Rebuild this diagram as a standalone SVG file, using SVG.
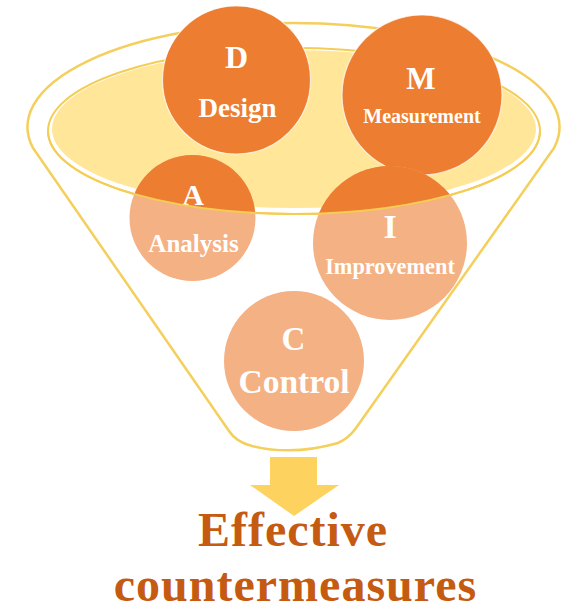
<svg xmlns="http://www.w3.org/2000/svg" width="562" height="611" viewBox="0 0 562 611">
  <style>
    .lbl { font-family: "Liberation Serif", "Times New Roman", serif; font-weight: bold; fill: #ffffff; text-anchor: middle; }
    .title { font-family: "Liberation Serif", "Times New Roman", serif; font-weight: bold; fill: #C55A11; text-anchor: middle; font-size: 48px; letter-spacing: 1px; }
    .dark { fill: #ED7D31; stroke: #ffffff; stroke-opacity: 0.7; stroke-width: 1.2; }
    .light { fill: #F4B183; }
    .rim { fill: none; stroke: #F5CF5C; stroke-width: 2.5; stroke-linejoin: round; }
  </style>
  <defs>
    <clipPath id="liquid">
      <ellipse cx="294" cy="131" rx="246" ry="83"/>
    </clipPath>
  </defs>
  <rect width="562" height="611" fill="#ffffff"/>

  <g id="funnel">
    <path class="rim" d="M 33,148 L 229,431 Q 236,442 252,446 Q 293,456 338,443 Q 349,438 356,428 L 554,148 A 266 104 0 1 0 33,148 Z"/>
    <ellipse cx="294" cy="131" rx="246" ry="83" fill="none" stroke="#F5CD55" stroke-width="2"/>
    <ellipse cx="294" cy="129" rx="242" ry="79" fill="#FFE699"/>
  </g>

  <g id="node-D">
    <circle class="dark" cx="236.5" cy="80" r="74"/>
    <text class="lbl" x="236.5" y="68" font-size="32">D</text>
    <text class="lbl" x="237.5" y="117" font-size="27">Design</text>
  </g>

  <g id="node-M">
    <circle class="dark" cx="422" cy="95" r="80"/>
    <text class="lbl" x="421" y="89" font-size="31">M</text>
    <text class="lbl" x="422" y="123" font-size="20">Measurement</text>
  </g>

  <g id="node-A">
    <circle class="light" cx="192.5" cy="218" r="63"/>
    <circle cx="192.5" cy="218" r="63" fill="#ED7D31" clip-path="url(#liquid)"/>
    <text class="lbl" x="193" y="205" font-size="30">A</text>
    <text class="lbl" x="193.5" y="252" font-size="25">Analysis</text>
  </g>

  <g id="node-I">
    <circle class="light" cx="390" cy="243" r="77"/>
    <circle cx="390" cy="243" r="77" fill="#ED7D31" clip-path="url(#liquid)"/>
    <text class="lbl" x="390" y="238" font-size="34">I</text>
    <text class="lbl" x="390" y="274" font-size="22.3">Improvement</text>
  </g>

  <g id="node-C">
    <circle class="light" cx="294" cy="361" r="70"/>
    <text class="lbl" x="293.5" y="350" font-size="33">C</text>
    <text class="lbl" x="294" y="393" font-size="33.5">Control</text>
  </g>

  <g id="surface">
    <path d="M 48,131 A 246 83 0 0 0 540,131" fill="none" stroke="#F5CD55" stroke-width="2"/>
  </g>

  <g id="connectors">
    <polygon points="270,457 317,457 317,485 339,485 294,516 250,485 270,485" fill="#FDD25E"/>
  </g>

  <g id="node-result">
    <text class="title" x="293" y="546">Effective</text>
    <text class="title" x="295.5" y="601">countermeasures</text>
  </g>
</svg>
